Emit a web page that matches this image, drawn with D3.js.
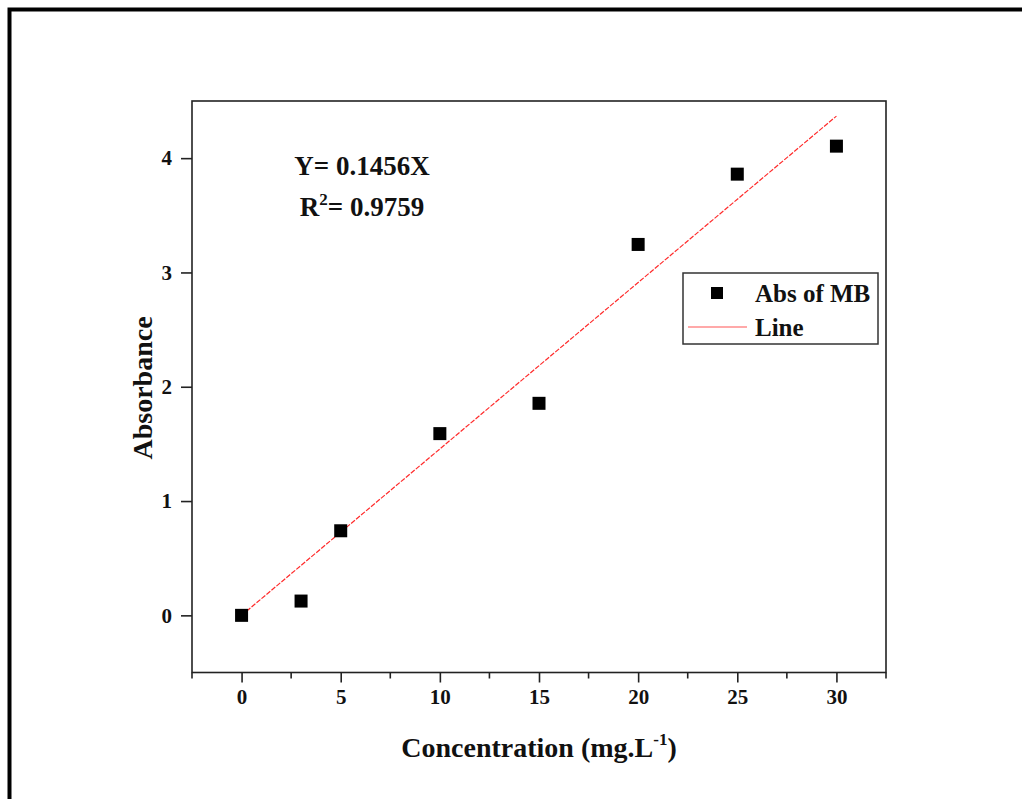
<!DOCTYPE html>
<html>
<head>
<meta charset="utf-8">
<script src="https://cdn.jsdelivr.net/npm/d3@7"></script>
<style>
  html, body { margin: 0; padding: 0; background: #fff; }
  svg { display: block; }
  text { font-family: "Liberation Serif", "Times New Roman", serif; font-weight: bold; fill: #111; }
</style>
</head>
<body>
<svg id="chart" width="1022" height="799"></svg>
<script>
// Methylene blue calibration: absorbance vs concentration
const concentrations = [0, 3, 5, 10, 15, 20, 25, 30];
const absorbance = [0, 0.125, 0.74, 1.59, 1.855, 3.245, 3.86, 4.105];
const slope = 0.1456;
const rSquared = "0.9759";
const xTicks = [0, 5, 10, 15, 20, 25, 30];
const yTicks = [0, 1, 2, 3, 4];
const seriesNames = ["Abs of MB", "Line"];

const svg = d3.select("#chart");

// outer frame (left and top edges)
svg.append("path")
  .attr("d", "M9.5,799 V9.5 H1022")
  .attr("fill", "none")
  .attr("stroke", "#000")
  .attr("stroke-width", 4);

const plot = { left: 192, right: 886, top: 101, bottom: 672.5 };

const x = d3.scaleLinear().domain([-2.5, 32.5]).range([plot.left, plot.right]);
const y = d3.scaleLinear().domain([-0.5, 4.5]).range([plot.bottom, plot.top]);

// frame of the plot area
svg.append("rect")
  .attr("x", plot.left).attr("y", plot.top)
  .attr("width", plot.right - plot.left).attr("height", plot.bottom - plot.top)
  .attr("fill", "none").attr("stroke", "#222").attr("stroke-width", 1.6);

// bottom axis with minor ticks
const xMinor = d3.range(-2.5, 32.6, 2.5).filter(v => !xTicks.includes(v));
svg.append("g").selectAll("line").data(xMinor).join("line")
  .attr("x1", d => x(d)).attr("x2", d => x(d))
  .attr("y1", plot.bottom).attr("y2", plot.bottom + 6)
  .attr("stroke", "#222").attr("stroke-width", 1.6);

const xAxis = svg.append("g")
  .attr("transform", `translate(0,${plot.bottom})`)
  .call(d3.axisBottom(x).tickValues(xTicks).tickSize(10).tickPadding(7).tickFormat(d3.format("d")));
xAxis.select(".domain").remove();
xAxis.selectAll("line").attr("stroke", "#222").attr("stroke-width", 1.6);
xAxis.selectAll("text").attr("font-size", 21).attr("font-family", "Liberation Serif").attr("font-weight", "bold").attr("fill", "#111");

// left axis
const yAxis = svg.append("g")
  .attr("transform", `translate(${plot.left},0)`)
  .call(d3.axisLeft(y).tickValues(yTicks).tickSize(11).tickPadding(9).tickFormat(d3.format("d")));
yAxis.select(".domain").remove();
yAxis.selectAll("line").attr("stroke", "#222").attr("stroke-width", 1.6);
yAxis.selectAll("text").attr("font-size", 21).attr("font-family", "Liberation Serif").attr("font-weight", "bold").attr("fill", "#111");

// axis titles
svg.append("text")
  .attr("x", 539).attr("y", 757)
  .attr("text-anchor", "middle").attr("font-size", 28)
  .html('Concentration (mg.L<tspan dy="-12" font-size="17">-1</tspan><tspan dy="12">)</tspan>');

svg.append("text")
  .attr("transform", `translate(152,388) rotate(-90)`)
  .attr("text-anchor", "middle").attr("font-size", 28)
  .text("Absorbance");

// fitted line through origin
svg.append("line")
  .attr("x1", x(0)).attr("y1", y(0))
  .attr("x2", x(30)).attr("y2", y(slope * 30))
  .attr("stroke", "#ff2a2a").attr("stroke-width", 1.2)
  .attr("stroke-dasharray", "5,1.5");

// data markers
const size = 13;
svg.append("g").selectAll("rect").data(concentrations).join("rect")
  .attr("x", (d, i) => x(d) - size / 2)
  .attr("y", (d, i) => y(absorbance[i]) - size / 2)
  .attr("width", size).attr("height", size)
  .attr("fill", "#000");

// equation annotation
svg.append("text")
  .attr("x", 362).attr("y", 175)
  .attr("text-anchor", "middle").attr("font-size", 27)
  .text(`Y= ${slope}X`);
svg.append("text")
  .attr("x", 362).attr("y", 216)
  .attr("text-anchor", "middle").attr("font-size", 27)
  .html(`R<tspan dy="-11" font-size="17">2</tspan><tspan dy="11">= ${rSquared}</tspan>`);

// legend
const lg = svg.append("g");
lg.append("rect")
  .attr("x", 683).attr("y", 273).attr("width", 195).attr("height", 71)
  .attr("fill", "#fff").attr("stroke", "#333").attr("stroke-width", 1.5);
lg.append("rect")
  .attr("x", 711).attr("y", 287).attr("width", 12).attr("height", 12)
  .attr("fill", "#000");
lg.append("line")
  .attr("x1", 688).attr("x2", 747).attr("y1", 327).attr("y2", 327)
  .attr("stroke", "#ff5555").attr("stroke-width", 1.2);
lg.selectAll("text.lbl").data(seriesNames).join("text")
  .attr("class", "lbl")
  .attr("x", 755).attr("y", (d, i) => 302 + i * 34)
  .attr("font-size", 25)
  .text(d => d);
</script>
</body>
</html>
